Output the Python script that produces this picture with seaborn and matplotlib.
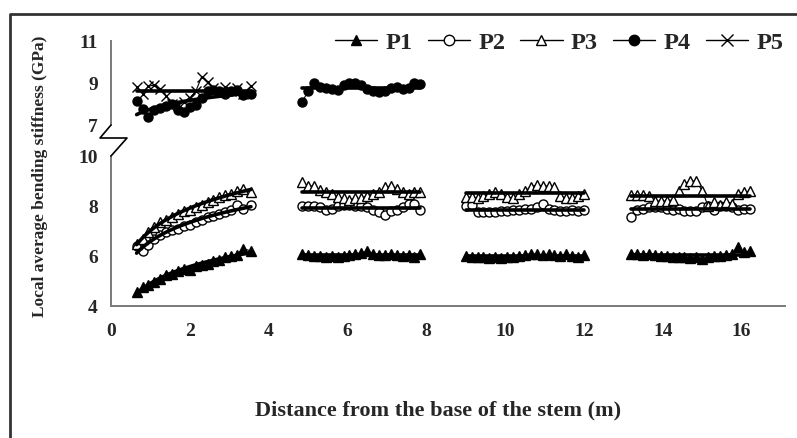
import numpy as np
import pandas as pd
import matplotlib
matplotlib.use("Agg")
import matplotlib.pyplot as plt
from matplotlib.lines import Line2D
import seaborn as sns

# ---------------- data ----------------
seg1_x = [0.65, 0.8, 0.95, 1.1, 1.25, 1.4, 1.55, 1.7, 1.85, 2.0, 2.15, 2.3, 2.45, 2.6, 2.75, 2.9, 3.05, 3.2, 3.35, 3.55]
seg2_x = [4.85, 5.0, 5.15, 5.3, 5.45, 5.6, 5.75, 5.9, 6.05, 6.2, 6.35, 6.5, 6.65, 6.8, 6.95, 7.1, 7.25, 7.4, 7.55, 7.7, 7.85]
seg3_x = [9.0, 9.15, 9.3, 9.45, 9.6, 9.75, 9.9, 10.05, 10.2, 10.35, 10.5, 10.65, 10.8, 10.95, 11.1, 11.25, 11.4, 11.55, 11.7, 11.85, 12.0]
seg4_x = [13.2, 13.35, 13.5, 13.65, 13.8, 13.95, 14.1, 14.25, 14.4, 14.55, 14.7, 14.85, 15.0, 15.15, 15.3, 15.45, 15.6, 15.75, 15.9, 16.05, 16.2]

p1_seg1 = [4.58, 4.75, 4.85, 4.95, 5.1, 5.25, 5.3, 5.4, 5.5, 5.45, 5.6, 5.65, 5.7, 5.8, 5.85, 5.95, 6.0, 6.05, 6.3, 6.2]
p1_seg2 = [6.1, 6.05, 6.0, 6.0, 5.98, 6.02, 5.97, 6.0, 6.05, 6.1, 6.12, 6.2, 6.1, 6.05, 6.05, 6.1, 6.05, 6.0, 6.05, 5.95, 6.1]
p1_seg3 = [6.0, 5.98, 5.95, 5.95, 5.92, 5.95, 5.93, 5.95, 5.98, 6.0, 6.05, 6.1, 6.08, 6.05, 6.08, 6.05, 6.0, 6.1, 6.0, 5.95, 6.05]
p1_seg4 = [6.1, 6.1, 6.05, 6.1, 6.05, 6.02, 6.0, 5.98, 5.98, 5.95, 5.92, 5.95, 5.9, 5.95, 6.0, 6.0, 6.05, 6.1, 6.35, 6.15, 6.2]

p2_seg1 = [6.4, 6.2, 6.45, 6.7, 6.85, 6.95, 7.05, 7.1, 7.2, 7.25, 7.35, 7.45, 7.55, 7.6, 7.7, 7.75, 7.85, 8.05, 7.9, 8.05]
p2_seg2 = [8.0, 8.0, 8.0, 7.95, 7.85, 7.9, 8.0, 8.05, 8.05, 8.0, 8.0, 7.95, 7.85, 7.75, 7.65, 7.8, 7.85, 7.95, 8.1, 8.1, 7.85]
p2_seg3 = [8.0, 8.05, 7.75, 7.75, 7.75, 7.75, 7.8, 7.8, 7.85, 7.85, 7.9, 7.9, 7.95, 8.1, 7.9, 7.85, 7.8, 7.8, 7.85, 7.8, 7.85]
p2_seg4 = [7.55, 7.85, 7.9, 7.95, 7.95, 7.95, 7.9, 7.85, 7.9, 7.8, 7.8, 7.8, 7.95, 8.0, 7.85, 8.0, 8.0, 7.95, 7.85, 7.9, 7.9]

p3_seg1 = [6.5, 6.7, 6.95, 7.15, 7.35, 7.45, 7.55, 7.7, 7.8, 7.85, 7.95, 8.05, 8.15, 8.25, 8.35, 8.45, 8.5, 8.6, 8.7, 8.55]
p3_seg2 = [8.95, 8.8, 8.8, 8.65, 8.55, 8.5, 8.35, 8.3, 8.25, 8.3, 8.3, 8.4, 8.5, 8.55, 8.75, 8.8, 8.7, 8.55, 8.5, 8.55, 8.55]
p3_seg3 = [8.35, 8.35, 8.3, 8.4, 8.5, 8.55, 8.5, 8.35, 8.3, 8.5, 8.6, 8.75, 8.85, 8.8, 8.8, 8.75, 8.4, 8.3, 8.3, 8.4, 8.5]
p3_seg4 = [8.45, 8.45, 8.45, 8.4, 8.2, 8.2, 8.2, 8.25, 8.6, 8.9, 9.0, 9.0, 8.6, 8.0, 8.15, 8.05, 8.15, 8.1, 8.5, 8.55, 8.6]

p4_seg1 = [8.15, 7.75, 7.4, 7.7, 7.8, 7.9, 8.0, 7.7, 7.6, 7.85, 7.95, 8.3, 8.6, 8.65, 8.6, 8.5, 8.6, 8.65, 8.45, 8.5]
p4_seg2 = [8.1, 8.6, 9.0, 8.8, 8.75, 8.7, 8.65, 8.9, 9.0, 9.0, 8.9, 8.7, 8.6, 8.55, 8.6, 8.75, 8.8, 8.7, 8.75, 9.0, 8.95]

p5_seg1 = [8.8, 8.5, 8.85, 8.9, 8.7, 8.4, 8.0, 7.95, 8.1, 8.3, 8.6, 9.3, 9.05, 8.75, 8.55, 8.8, 8.6, 8.75, 8.5, 8.85]

series_names = ["P1", "P2", "P3", "P4", "P5"]
x_ticks = [0, 2, 4, 6, 8, 10, 12, 14, 16]
top_ticks = [7, 9, 11]
bottom_ticks = [4, 6, 8, 10]

rows = []
def add(name, seg, xs, ys):
    for xv, yv in zip(xs, ys):
        rows.append({"series": name, "segment": seg, "x": xv, "y": yv})

add("P1", 1, seg1_x, p1_seg1); add("P1", 2, seg2_x, p1_seg2); add("P1", 3, seg3_x, p1_seg3); add("P1", 4, seg4_x, p1_seg4)
add("P2", 1, seg1_x, p2_seg1); add("P2", 2, seg2_x, p2_seg2); add("P2", 3, seg3_x, p2_seg3); add("P2", 4, seg4_x, p2_seg4)
add("P3", 1, seg1_x, p3_seg1); add("P3", 2, seg2_x, p3_seg2); add("P3", 3, seg3_x, p3_seg3); add("P3", 4, seg4_x, p3_seg4)
add("P4", 1, seg1_x, p4_seg1); add("P4", 2, seg2_x, p4_seg2)
add("P5", 1, seg1_x, p5_seg1)
df = pd.DataFrame(rows)

# ---------------- style ----------------
sns.set_style("white")
plt.rcParams["font.family"] = ["Liberation Serif", "DejaVu Serif"]
plt.rcParams["font.weight"] = "bold"

styles = {
    "P1": dict(marker="^", mfc="black", ms=6.5),
    "P2": dict(marker="o", mfc="white", ms=6.5),
    "P3": dict(marker="^", mfc="white", ms=6.5),
    "P4": dict(marker="o", mfc="black", ms=6.5),
    "P5": dict(marker="x", mfc="black", ms=7.5),
}
panel_of = {"P1": "bottom", "P2": "bottom", "P3": "bottom", "P4": "top", "P5": "top"}

W, H = 797, 439
fig = plt.figure(figsize=(W / 100, H / 100), dpi=100)

def px_axes(left, right, top, bottom):
    return [left / W, 1 - bottom / H, (right - left) / W, (bottom - top) / H]

ax_top = fig.add_axes(px_axes(111, 785, 42, 126))
ax_bot = fig.add_axes(px_axes(111, 785, 157, 307))

spine_col = "#7a7a7a"
for ax in (ax_top, ax_bot):
    for s in ["top", "right"]:
        ax.spines[s].set_visible(False)
    ax.spines["left"].set_color(spine_col)
    ax.spines["left"].set_linewidth(1.4)
    ax.spines["bottom"].set_color(spine_col)
    ax.spines["bottom"].set_linewidth(1.4)
    ax.set_xlim(0, 17.1)
    ax.patch.set_alpha(0)
    ax.tick_params(axis="both", direction="out", length=4.5, width=1.2,
                   color=spine_col, labelsize=14, pad=5)

ax_top.spines["bottom"].set_visible(False)
ax_top.set_xticks([])
ax_top.set_ylim(7, 11)
ax_top.set_yticks(top_ticks)
ax_bot.set_ylim(4, 10)
ax_bot.set_yticks(bottom_ticks)
ax_bot.set_xticks(x_ticks)
ax_bot.tick_params(axis="x", pad=7)
for lab in ax_top.get_yticklabels() + ax_bot.get_yticklabels() + ax_bot.get_xticklabels():
    lab.set_fontweight("bold")

# ---------------- data marks ----------------
for name in series_names:
    ax = ax_top if panel_of[name] == "top" else ax_bot
    st = styles[name]
    sub = df[df.series == name]
    for seg, g in sub.groupby("segment"):
        sns.lineplot(data=g, x="x", y="y", ax=ax, color="black", lw=0.8,
                     marker=st["marker"], markersize=st["ms"],
                     markerfacecolor=st["mfc"], markeredgecolor="black",
                     markeredgewidth=1.0, sort=False, estimator=None,
                     legend=False, zorder=3)
        if seg == 1 and name != "P5":
            sns.regplot(data=g, x="x", y="y", ax=ax, logx=True, scatter=False,
                        ci=None, truncate=True,
                        line_kws=dict(color="black", lw=2.6, zorder=4))
        else:
            m = g["y"].mean()
            ax.plot([g["x"].min(), g["x"].max()], [m, m], color="black",
                    lw=2.6, zorder=4)
    ax.set_xlabel("")
    ax.set_ylabel("")

ax_top.set_xlim(0, 17.1)
ax_bot.set_xlim(0, 17.1)

# ---------------- axis break marks ----------------
def P(xp, yp):
    return (xp / 100.0, (H - yp) / 100.0)
pts = [P(111, 126), P(100, 139), P(127, 139), P(111, 157)]
fig.add_artist(Line2D([p[0] for p in pts], [p[1] for p in pts],
                      transform=fig.dpi_scale_trans, color="black", lw=1.2))

# ---------------- labels ----------------
fig.text(438 / W, 1 - 410 / H, "Distance from the base of the stem (m)",
         ha="center", va="center", fontsize=16, fontweight="bold")
fig.text(40 / W, 1 - 176 / H, "Local average bending stiffness (GPa)",
         ha="center", va="center", rotation=90, fontsize=12.5, fontweight="bold")

# ---------------- legend ----------------
handles = []
for name in series_names:
    st = styles[name]
    handles.append(Line2D([], [], color="black", lw=1.0, marker=st["marker"],
                          markersize=st["ms"] + 1, markerfacecolor=st["mfc"],
                          markeredgecolor="black"))
fig.legend(handles, series_names, loc="center", ncol=5,
           bbox_to_anchor=(559 / W, 1 - 43 / H), frameon=False,
           prop=dict(size=17.5, weight="bold"), handlelength=1.75,
           handletextpad=0.33, columnspacing=0.62, borderpad=0)

# ---------------- outer frame ----------------
fig.add_artist(Line2D([10 / W, 10 / W, 1.0], [0.0, 1 - 15 / H, 1 - 15 / H],
                      transform=fig.transFigure, color="#333333", lw=2.0))

fig.savefig("out.png", dpi=100)
